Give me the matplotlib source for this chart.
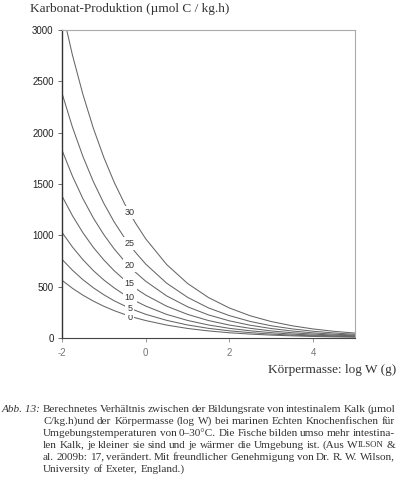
import matplotlib
matplotlib.use("Agg")
import matplotlib.pyplot as plt

plt.rcParams["axes.unicode_minus"] = False

# data (log W in g -> carbonate production, umol C / kg.h)
log_w = [-2.0, -1.75, -1.5, -1.25, -1.0, -0.75, -0.5, -0.25, 0.0,
         0.5, 1.0, 1.5, 2.0, 2.5, 3.0, 3.5, 4.0, 4.5, 5.0]
temps = [0, 5, 10, 15, 20, 25, 30]
prod_0 = [562, 484, 417, 359, 309, 266, 229, 197, 170, 126, 93, 69, 51, 38, 28, 21, 15, 11, 8.5]
prod_5 = [766, 660, 568, 489, 421, 362, 312, 269, 231, 172, 127, 94, 70, 52, 38, 28, 21, 16, 12]
prod_10 = [1029, 886, 763, 656, 565, 487, 419, 361, 311, 230, 171, 127, 94, 70, 52, 38, 28, 21, 16]
prod_15 = [1383, 1191, 1025, 882, 760, 654, 563, 485, 418, 310, 230, 170, 126, 94, 69, 51, 38, 28, 21]
prod_20 = [1830, 1576, 1357, 1168, 1006, 866, 746, 642, 553, 410, 304, 225, 167, 124, 92, 68, 50, 37, 28]
prod_25 = [2385, 2053, 1768, 1522, 1311, 1128, 972, 837, 720, 534, 396, 293, 218, 161, 119, 89, 66, 49, 36]
prod_30 = [3200, 2755, 2372, 2042, 1758, 1514, 1304, 1123, 966, 716, 531, 394, 292, 216, 160, 119, 88, 65, 48]
series = [prod_0, prod_5, prod_10, prod_15, prod_20, prod_25, prod_30]

label_x = -0.38
label_y = [200, 292, 395, 530, 705, 925, 1220]

y_ticks = [0, 500, 1000, 1500, 2000, 2500, 3000]
x_ticks = [-2, 0, 2, 4]

caption_lines = [
    "Berechnetes Verhältnis zwischen der Bildungsrate von intestinalem Kalk (µmol",
    "C/kg.h)und der Körpermasse (log W) bei marinen Echten Knochenfischen für",
    "Umgebungstemperaturen von 0–30°C. Die Fische bilden umso mehr intestina-",
    "len Kalk, je kleiner sie sind und je wärmer die Umgebung ist. (Aus Wilson &",
    "al. 2009b: 17, verändert. Mit freundlicher Genehmigung von Dr. R. W. Wilson,",
    "University of Exeter, England.)",
]

SERIF = "Liberation Serif"
SANS = "Liberation Sans"
INK = "#333333"

fig = plt.figure(figsize=(3.97, 4.8), dpi=100)
ax = fig.add_axes([62 / 397, 1 - 338 / 480, (355 - 62) / 397, (338 - 30) / 480])

for t, ys in zip(temps, series):
    ax.plot(log_w, ys, color="#666666", lw=0.75)
for t, ly in zip(temps, label_y):
    ax.text(label_x, ly, str(t), ha="center", va="center", fontsize=6.5,
            family=SANS, color="#333333",
            bbox=dict(facecolor="white", edgecolor="none", pad=1.4))

ax.set_xlim(-2, 5)
ax.set_ylim(0, 3000)
ax.set_yticks(y_ticks)
ax.set_xticks(x_ticks)
ax.tick_params(axis="y", length=3, width=0.6, pad=3, labelsize=7, labelcolor="#222222", color="#555555")
ax.tick_params(axis="x", length=3, width=0.6, pad=4, labelsize=7, labelcolor="#777777", color="#888888")
for lab in ax.get_xticklabels() + ax.get_yticklabels():
    lab.set_family(SANS)
ax.spines["left"].set_color("#333333")
ax.spines["left"].set_linewidth(1.0)
ax.spines["bottom"].set_color("#444444")
ax.spines["bottom"].set_linewidth(0.8)
for s in ("top", "right"):
    ax.spines[s].set_color("#aaaaaa")
    ax.spines[s].set_linewidth(0.8)

fig.text(30 / 397, 1 - 9 / 480, "Karbonat-Produktion (µmol C / kg.h)", ha="left", va="center",
         fontsize=9.5, family=SERIF, color=INK)
fig.text(396 / 397, 1 - 370 / 480, "Körpermasse: log W (g)", ha="right", va="center",
         fontsize=9.5, family=SERIF, color=INK)

# caption, justified by hand word by word
renderer = fig.canvas.get_renderer()
cap_size = 8.1
x0, x1 = 43, 395
line_y = [409, 421, 433, 445, 457, 469]


def width_px(txt, size):
    t = fig.text(0, 0, txt, fontsize=size, family=SERIF)
    w = t.get_window_extent(renderer).width
    t.remove()
    return w


def word_parts(word, line):
    # small caps for the author name in the citation
    if word == "Wilson" and "Aus" in line:
        return [("W", cap_size), ("ILSON", cap_size * 0.78)]
    return [(word, cap_size)]


fig.text(2 / 397, 1 - line_y[0] / 480, "Abb. 13:", ha="left", va="center",
         fontsize=cap_size, family=SERIF, style="italic", color=INK)

space = width_px("a b", cap_size) - width_px("ab", cap_size)
for i, (line, y) in enumerate(zip(caption_lines, line_y)):
    words = line.split(" ")
    parts = [word_parts(w, line) for w in words]
    widths = [sum(width_px(p, s) for p, s in wp) for wp in parts]
    if i < len(caption_lines) - 1:
        gap = (x1 - x0 - sum(widths)) / (len(words) - 1)
    else:
        gap = space
    x = x0
    for wp, w in zip(parts, widths):
        xx = x
        for p, s in wp:
            fig.text(xx / 397, 1 - y / 480, p, ha="left", va="center", fontsize=s,
                     family=SERIF, color=INK)
            xx += width_px(p, s)
        x += w + gap

fig.savefig("out.png", dpi=100)
